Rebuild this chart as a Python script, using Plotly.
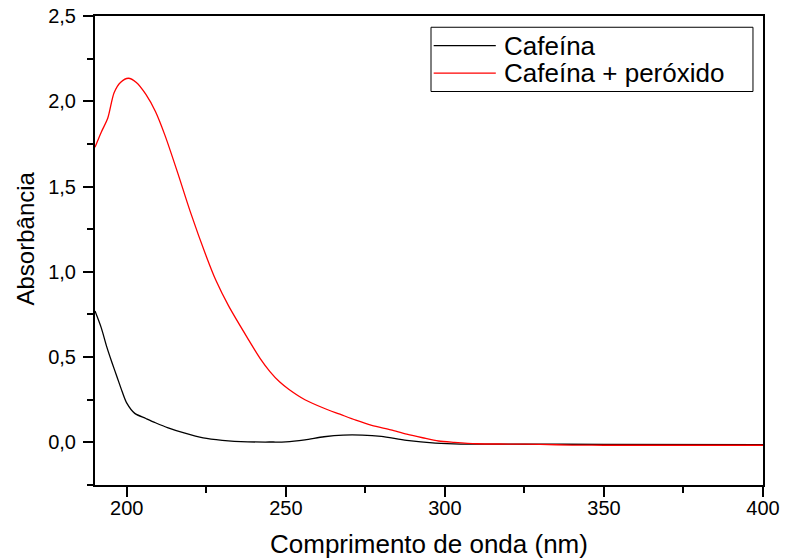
import plotly.graph_objects as go

# UV-Vis spectra: caffeine alone and caffeine + peroxide
wl_caf = [190, 192, 193.7, 195.3, 196.9, 198.5, 200, 202.5, 206, 209, 213, 218, 224,
          230, 238, 245, 250, 256, 262, 268, 274, 280, 288, 297, 305, 320, 350, 400]
abs_caf = [0.77, 0.67, 0.56, 0.47, 0.385, 0.30, 0.23, 0.17, 0.14, 0.115, 0.085, 0.055,
           0.026, 0.012, 0.003, 0.002, 0.003, 0.015, 0.033, 0.043, 0.043, 0.035, 0.012,
           -0.004, -0.01, -0.01, -0.012, -0.013]

wl_perox = [190, 192, 194, 196, 198, 200.5, 203, 206, 209, 212, 216, 220, 225, 228,
            232, 238, 242, 245, 248, 251, 256, 262, 267, 272, 277, 283, 288, 293, 298,
            303, 310, 320, 330, 340, 350, 375, 400]
abs_perox = [1.73, 1.82, 1.90, 2.05, 2.11, 2.135, 2.11, 2.04, 1.94, 1.80, 1.58, 1.35,
             1.09, 0.95, 0.80, 0.61, 0.49, 0.415, 0.355, 0.31, 0.25, 0.20, 0.165, 0.13,
             0.10, 0.073, 0.048, 0.027, 0.008, 0.0, -0.008, -0.01, -0.012, -0.016,
             -0.017, -0.017, -0.017]

series_names = ["Cafeína", "Cafeína + peróxido"]
series_colors = ["#000000", "#ff0000"]

x_ticks = [200, 250, 300, 350, 400]
y_ticks = [0.0, 0.5, 1.0, 1.5, 2.0, 2.5]

FONT = "Liberation Sans, Arial, sans-serif"

fig = go.Figure()
for wl, ab, name, col in zip([wl_caf, wl_perox], [abs_caf, abs_perox],
                             series_names, series_colors):
    fig.add_trace(go.Scatter(
        x=wl, y=ab, mode="lines", name=name,
        line=dict(color=col, width=1.3, shape="spline", smoothing=0.8),
        showlegend=False,
    ))

axis_common = dict(
    showline=True, linecolor="black", linewidth=2, mirror=True,
    ticks="outside", ticklen=10, tickwidth=2, tickcolor="black",
    showgrid=False, zeroline=False, automargin=False,
    tickfont=dict(family=FONT, size=20, color="black"),
)

fig.update_xaxes(
    range=[190, 400], tickvals=x_ticks, ticklabelstandoff=-6,
    minor=dict(ticks="outside", ticklen=6, tickwidth=2, tickcolor="black", dtick=25,
               tick0=0, showgrid=False),
    **axis_common,
)
fig.update_yaxes(
    range=[-0.25, 2.5], tickvals=y_ticks, tickformat=".1f", ticklabelstandoff=3,
    minor=dict(ticks="outside", ticklen=6, tickwidth=2, tickcolor="black", dtick=0.25,
               tick0=0, showgrid=False),
    **axis_common,
)

# Axis titles
fig.add_annotation(xref="paper", yref="paper", x=0.5, y=0, yshift=-59,
                   text="Comprimento de onda (nm)", showarrow=False,
                   xanchor="center", yanchor="middle",
                   font=dict(family=FONT, size=26, color="black"))
fig.add_annotation(xref="paper", yref="paper", x=0, y=0.5, xshift=-70, yshift=12,
                   text="Absorbância", showarrow=False, textangle=-90,
                   xanchor="center", yanchor="middle",
                   font=dict(family=FONT, size=24, color="black"))

# Legend box drawn in paper coordinates
leg_x0, leg_x1 = 0.503, 0.985
leg_y0, leg_y1 = 0.839, 0.976
fig.add_shape(type="rect", xref="paper", yref="paper",
              x0=leg_x0, x1=leg_x1, y0=leg_y0, y1=leg_y1,
              line=dict(color="black", width=1), fillcolor="white")
row_y = [0.937, 0.878]
for ry, name, col in zip(row_y, series_names, series_colors):
    fig.add_shape(type="line", xref="paper", yref="paper",
                  x0=0.507, x1=0.600, y0=ry, y1=ry,
                  line=dict(color=col, width=1.3))
    fig.add_annotation(xref="paper", yref="paper", x=0.610, y=ry, text=name,
                       showarrow=False, xanchor="left", yanchor="middle",
                       font=dict(family=FONT, size=26, color="black"))

fig.update_layout(
    width=785, height=560,
    margin=dict(l=95, r=22, t=16, b=75),
    paper_bgcolor="white", plot_bgcolor="white",
    separators=",.",
    font=dict(family=FONT, color="black"),
)

fig.write_html("out.html")
